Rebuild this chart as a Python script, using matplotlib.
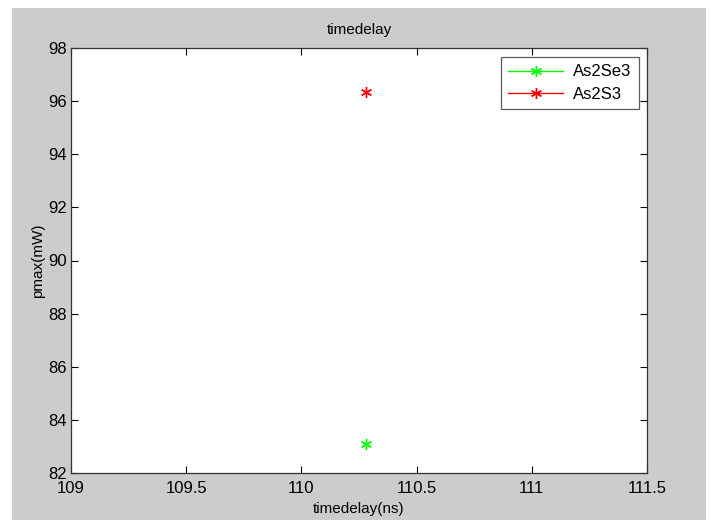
import matplotlib
matplotlib.use("Agg")
import matplotlib.pyplot as plt
from matplotlib.patches import Rectangle

plt.rcParams['font.family'] = ['Liberation Sans', 'DejaVu Sans']

# data
series_names = ["As2Se3", "As2S3"]
series_colors = ["#00ff00", "#ff0000"]
timedelay = [110.28, 110.28]
pmax = [83.1, 96.35]

xticks = [109, 109.5, 110, 110.5, 111, 111.5]
xticklabels = ["109", "109.5", "110", "110.5", "111", "111.5"]
yticks = [82, 84, 86, 88, 90, 92, 94, 96, 98]

fig = plt.figure(figsize=(7.11, 5.20), dpi=100, facecolor="white")
# matlab-style grey figure area (white strip at top/left/right like the screenshot)
fig.patches.append(Rectangle((12 / 711, 0), 694 / 711, 512 / 520,
                             transform=fig.transFigure, facecolor="#cccccc",
                             edgecolor="none", zorder=-10))

ax = fig.add_axes([71 / 711, 47 / 520, 576 / 711, 425 / 520])
ax.set_facecolor("white")

asterisk = (6, 2, 0)
for name, col, x, y in zip(series_names, series_colors, timedelay, pmax):
    ax.plot([x], [y], color=col, marker=asterisk, markersize=8,
            markeredgewidth=1.0, linewidth=1.0, label=name)

ax.set_xlim(109, 111.5)
ax.set_ylim(82, 98)
ax.set_xticks(xticks)
ax.set_xticklabels(xticklabels)
ax.set_yticks(yticks)
ax.tick_params(direction="in", length=5, width=0.8, top=True, right=True,
               labelsize=12, colors="black", pad=3)
ax.tick_params(axis="x", pad=6)
for s in ax.spines.values():
    s.set_linewidth(0.9)
    s.set_color("#333333")

ax.set_title("timedelay", fontsize=11, pad=10)
ax.set_xlabel("timedelay(ns)", fontsize=11, labelpad=4)
ax.set_ylabel("pmax(mW)", fontsize=11, labelpad=2)

leg = ax.legend(loc="upper right", bbox_to_anchor=(0.986, 0.979), fontsize=12,
                frameon=True, fancybox=False, handlelength=3.3,
                borderpad=0.45, labelspacing=0.45, handletextpad=0.6,
                borderaxespad=0)
leg.get_frame().set_edgecolor("#333333")
leg.get_frame().set_linewidth(0.9)

fig.savefig("out.png", dpi=100, facecolor=fig.get_facecolor())
